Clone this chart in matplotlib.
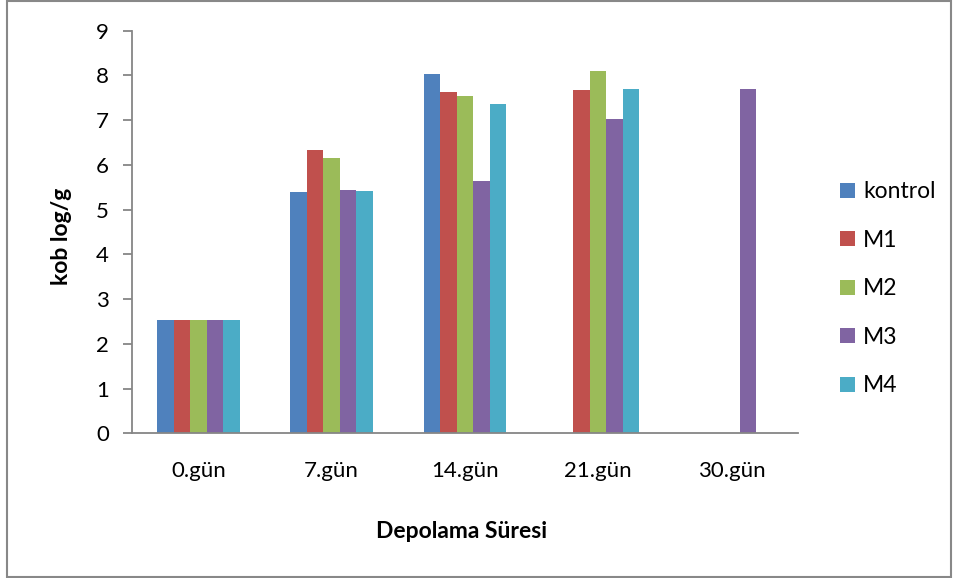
import numpy as np
import matplotlib
matplotlib.use("Agg")
import matplotlib.pyplot as plt
from matplotlib.patches import Rectangle

plt.rcParams['font.family'] = ['Lato', 'DejaVu Sans']

# storage days and the five groups (nan = no bar)
days = ["0.gün", "7.gün", "14.gün", "21.gün", "30.gün"]
series = ["kontrol", "M1", "M2", "M3", "M4"]
kontrol = [2.54, 5.39, 8.04, np.nan, np.nan]
m1 = [2.54, 6.33, 7.63, 7.67, np.nan]
m2 = [2.54, 6.15, 7.55, 8.10, np.nan]
m3 = [2.54, 5.45, 5.65, 7.02, 7.70]
m4 = [2.54, 5.42, 7.37, 7.70, np.nan]
values = [kontrol, m1, m2, m3, m4]
colors = ["#4F81BD", "#C0504D", "#9BBB59", "#8064A2", "#4BACC6"]

fig = plt.figure(figsize=(9.59, 5.78), dpi=100)
ax = fig.add_axes([0.1373, 0.2503, 0.6948, 0.6966])

x = np.arange(len(days))
w = 0.124
for j, (name, vals) in enumerate(zip(series, values)):
    ax.bar(x + (j - 2) * w, vals, width=w, color=colors[j], label=name, linewidth=0)

ax.set_xlim(-0.5, len(days) - 0.5)
ax.set_ylim(0, 9)
ax.set_yticks(range(10))
ax.set_xticks(x)
ax.set_xticklabels(days)

for s in ["top", "right"]:
    ax.spines[s].set_visible(False)
for s in ["left", "bottom"]:
    ax.spines[s].set_color("#868686")
    ax.spines[s].set_linewidth(1.3)

ax.tick_params(axis="y", length=6.5, width=1.3, color="#868686", labelsize=16, pad=10)
ax.tick_params(axis="x", length=0, labelsize=16, pad=20)

ax.set_xlabel("Depolama Süresi", fontsize=16.5, fontweight="bold")
ax.set_ylabel("kob log/g", fontsize=16.5, fontweight="bold")
ax.xaxis.set_label_coords(0.495, -0.245)
ax.xaxis.label.set_va("center")
ax.yaxis.set_label_coords(-0.1046, 0.49)
ax.yaxis.label.set_va("center")

fig.legend(loc="center left", bbox_to_anchor=(840 / 959, 0.5005), frameon=False,
           fontsize=16.5, handlelength=0.65, handleheight=0.65, handletextpad=0.35,
           labelspacing=1.2, borderpad=0, borderaxespad=0)

# outer chart border
fig.patches.append(Rectangle((7 / 959, 1 / 578), 944 / 959, 576 / 578,
                             transform=fig.transFigure, fill=False,
                             edgecolor="#888888", linewidth=1.5))

fig.savefig("out.png", dpi=100)
